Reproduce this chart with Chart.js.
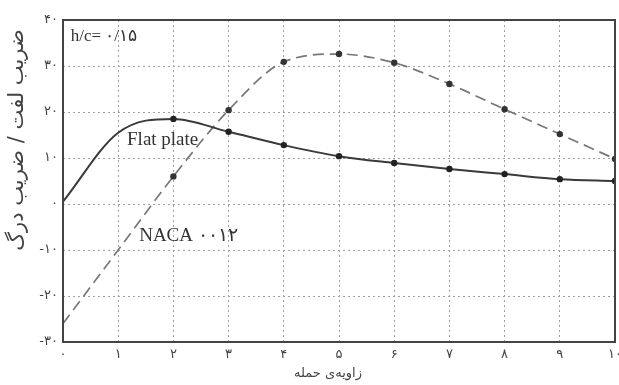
<!DOCTYPE html>
<html>
<head>
<meta charset="utf-8">
<script src="https://cdn.jsdelivr.net/npm/chart.js@4/dist/chart.umd.min.js"></script>
<style>
  html, body { margin: 0; padding: 0; background: #fff; }
  #wrap { width: 619px; height: 385px; }
</style>
</head>
<body>
<div id="wrap"><canvas id="chart"></canvas></div>
<script>
// Angle of attack and lift/drag ratio for the two sections
const angles = [0, 1, 2, 3, 4, 5, 6, 7, 8, 9, 10];
const flatPlate = [0.5, 15.5, 18.5, 15.7, 12.8, 10.4, 8.9, 7.6, 6.5, 5.4, 5.0];
const naca0012 = [-26, -10, 6, 20.4, 30.9, 32.6, 30.7, 26.1, 20.6, 15.2, 9.8];

// Tick labels in Persian digits
const xTickLabels = ['۰', '۱', '۲', '۳', '۴', '۵', '۶', '۷', '۸', '۹', '۱۰'];
const yTickValues = [-30, -20, -10, 0, 10, 20, 30, 40];
const yTickLabels = ['-۳۰', '-۲۰', '-۱۰', '۰', '۱۰', '۲۰', '۳۰', '۴۰'];

const xTitle = 'زاویه‌ی حمله';
const yTitle = 'ضریب لفت / ضریب درگ';

const INK = '#3a3a3a';
const GRID = '#a0a0a0';
const FA_FONT = 'DejaVu Sans';
const SERIF = 'Liberation Serif';

// Text notes placed in data coordinates
const notes = [
    { x: 0.14, y: 36.4, text: 'h/c= ۰/۱۵', font: '17px ' + SERIF },
    { x: 1.16, y: 13.9, text: 'Flat plate', font: '19px ' + SERIF },
    { x: 1.38, y: -7.0, text: 'NACA ۰۰۱۲', font: '19px ' + SERIF }
];

// Frame around the plot area, axis titles and the text notes
const framePlugin = {
    id: 'frame',
    afterDatasetsDraw(chart) {
        const { ctx, chartArea: a, scales } = chart;
        ctx.save();
        ctx.strokeStyle = '#444';
        ctx.lineWidth = 2;
        ctx.strokeRect(a.left, a.top, a.right - a.left, a.bottom - a.top);

        ctx.fillStyle = '#333';
        ctx.textBaseline = 'middle';
        ctx.textAlign = 'left';
        notes.forEach(n => {
            ctx.font = n.font;
            ctx.fillText(n.text, scales.x.getPixelForValue(n.x), scales.y.getPixelForValue(n.y));
        });

        ctx.fillStyle = '#444';
        ctx.textAlign = 'center';
        ctx.font = '13px ' + FA_FONT;
        ctx.fillText(xTitle, 328, 374);

        ctx.translate(18, 140);
        ctx.rotate(-Math.PI / 2);
        ctx.font = '21px ' + FA_FONT;
        ctx.fillText(yTitle, 0, 0);
        ctx.restore();
    }
};

const markerRadius = ctx => (ctx.dataIndex >= 2 ? 3.2 : 0);

new Chart(document.getElementById('chart'), {
    type: 'line',
    data: {
        datasets: [
            {
                label: 'Flat plate',
                data: angles.map((a, i) => ({ x: a, y: flatPlate[i] })),
                borderColor: INK,
                borderWidth: 2,
                pointRadius: markerRadius,
                pointBackgroundColor: '#222',
                pointBorderWidth: 0,
                cubicInterpolationMode: 'monotone'
            },
            {
                label: 'NACA 0012',
                data: angles.map((a, i) => ({ x: a, y: naca0012[i] })),
                borderColor: '#777',
                borderWidth: 1.7,
                borderDash: [11, 6],
                pointRadius: markerRadius,
                pointBackgroundColor: '#333',
                pointBorderWidth: 0,
                cubicInterpolationMode: 'monotone'
            }
        ]
    },
    options: {
        responsive: true,
        maintainAspectRatio: false,
        animation: false,
        layout: { padding: { top: 20, right: 2, left: 0, bottom: 0 } },
        plugins: {
            legend: { display: false },
            tooltip: { enabled: false }
        },
        scales: {
            x: {
                type: 'linear',
                min: 0,
                max: 10,
                ticks: {
                    stepSize: 1,
                    color: '#444',
                    font: { family: FA_FONT, size: 13 },
                    padding: 5,
                    maxRotation: 0,
                    callback: v => xTickLabels[angles.indexOf(v)]
                },
                grid: {
                    color: GRID,
                    lineWidth: 1,
                    drawTicks: false
                },
                border: { display: false, dash: [2, 3] },
                afterFit: s => {
                    s.height = 43;
                    s.paddingLeft = 0;
                    s.paddingRight = 0;
                }
            },
            y: {
                min: -30,
                max: 40,
                ticks: {
                    stepSize: 10,
                    color: '#444',
                    font: { family: FA_FONT, size: 13 },
                    padding: 5,
                    callback: v => yTickLabels[yTickValues.indexOf(v)]
                },
                grid: {
                    color: GRID,
                    lineWidth: 1,
                    drawTicks: false
                },
                border: { display: false, dash: [2, 3] },
                afterFit: s => {
                    s.width = 63;
                    s.paddingTop = 0;
                    s.paddingBottom = 0;
                }
            }
        }
    },
    plugins: [framePlugin]
});
</script>
</body>
</html>
